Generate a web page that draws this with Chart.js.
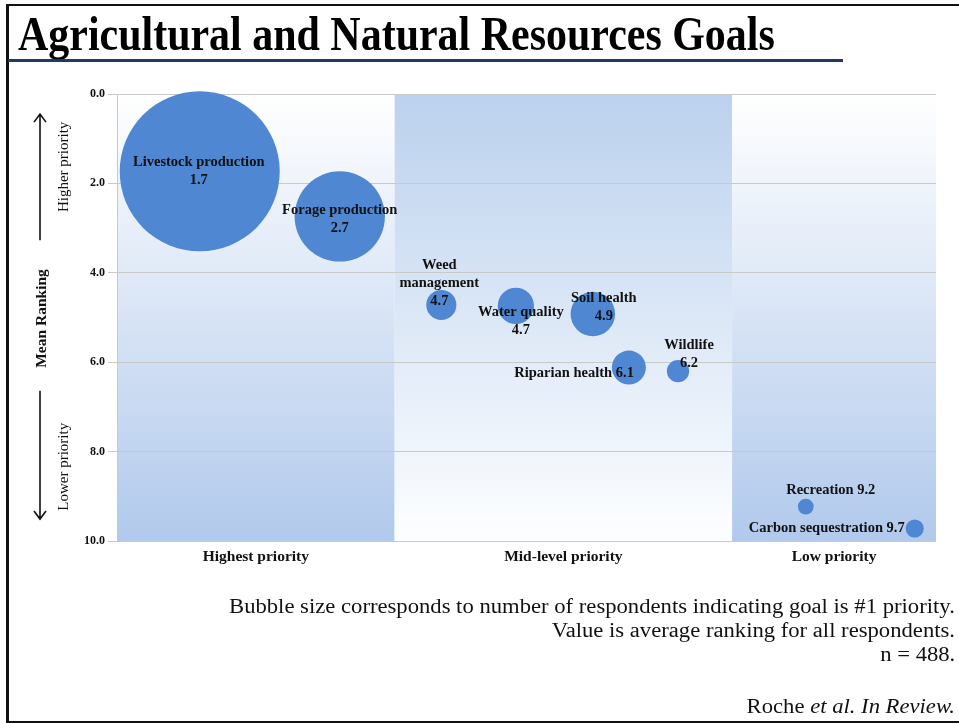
<!DOCTYPE html>
<html>
<head>
<meta charset="utf-8">
<title>Agricultural and Natural Resources Goals</title>
<script src="https://cdn.jsdelivr.net/npm/chart.js@4.4.1/dist/chart.umd.min.js"></script>
<style>
    body { margin: 0; background: #fff; }
    #slide { position: relative; width: 959px; height: 723px; overflow: hidden; background: #fff; }
    #goalsChart { position: absolute; left: 0; top: 0; }
    .frame {
        position: absolute; left: 6px; top: 4px; width: 970px; height: 715px;
        border-top: 2px solid #111; border-left: 3px solid #111; border-bottom: 3px solid #111;
    }
    .rule { position: absolute; left: 8px; top: 59px; width: 835px; height: 3px; background: #1f3a64; }
    .title {
        position: absolute; left: 18px; top: 10px; white-space: nowrap;
        font-family: "Liberation Serif", serif; font-weight: bold; font-size: 48px; line-height: 48px;
        color: #000; transform-origin: left top;
    }
    .note {
        position: absolute; right: 4px; white-space: nowrap; text-align: right;
        font-family: "Liberation Serif", serif; font-size: 20px; line-height: 24px;
        color: #111; transform-origin: right top;
    }
</style>
</head>
<body>
<div id="slide">
    <canvas id="goalsChart" width="959" height="723"></canvas>
    <div class="frame"></div>
    <div class="title" id="slideTitle">Agricultural and Natural Resources Goals</div>
    <div class="rule"></div>
    <div class="note" id="note1" style="top:594px">Bubble size corresponds to number of respondents indicating goal is #1 priority.</div>
    <div class="note" id="note2" style="top:618px">Value is average ranking for all respondents.</div>
    <div class="note" id="note3" style="top:642px">n = 488.</div>
    <div class="note" id="note4" style="top:694px">Roche <i>et al. In Review.</i></div>
</div>
<script>
// data
const goals = [
    "Livestock production",
    "Forage production",
    "Weed management",
    "Water quality",
    "Soil health",
    "Riparian health",
    "Wildlife",
    "Recreation",
    "Carbon sequestration",
];
const meanRanking = [1.73, 2.74, 4.72, 4.74, 4.92, 6.12, 6.2, 9.23, 9.72];
const goalPosition = [10.1, 27.2, 39.6, 48.7, 58.1, 62.5, 68.5, 84.1, 97.4];
const firstPriorityCount = [311, 99, 11, 16, 24, 14, 6, 3, 4];

const categories = ["Highest priority", "Mid-level priority", "Low priority"];
const bandEdges = [0, 33.9, 75.1, 100];
const rankingTicks = [0, 2, 4, 6, 8, 10];

const serif = "'Liberation Serif', 'Times New Roman', serif";
const bubbleColor = "#4f87d3";
const maxBubbleRadius = 80;

const bandColors = [
    ["#ffffff", "#b1c9ec"],
    ["#bbd1ee", "#fdfeff"],
    ["#ffffff", "#b1c9ec"],
];

// where each label sits relative to its bubble
const labelLayout = [
    { dx: -1, dy: -9, mode: "stack" },
    { dx: 0, dy: -6, mode: "stack" },
    { dx: -2, dy: -40, mode: "stack", wrap: true },
    { dx: 5, dy: 6, mode: "stack" },
    { dx: 11, dy: -16, mode: "stack" },
    { dx: 5, dy: 6, mode: "inline", align: "right" },
    { dx: 11, dy: -26, mode: "stack" },
    { dx: 25, dy: -16, mode: "inline" },
    { dx: -10, dy: 0, mode: "inline", align: "right" },
];

function bubbleRadius(count) {
    const maxCount = Math.max(...firstPriorityCount);
    return maxBubbleRadius * Math.sqrt(count / maxCount);
}

const priorityBands = {
    id: "priorityBands",
    beforeDraw(chart) {
        const { ctx, chartArea, scales } = chart;

        ctx.save();
        for (let i = 0; i < categories.length; i++) {
            const left = scales.x.getPixelForValue(bandEdges[i]);
            const right = scales.x.getPixelForValue(bandEdges[i + 1]);
            const gradient = ctx.createLinearGradient(0, chartArea.top, 0, chartArea.bottom);

            gradient.addColorStop(0, bandColors[i][0]);
            gradient.addColorStop(1, bandColors[i][1]);
            ctx.fillStyle = gradient;
            ctx.fillRect(left, chartArea.top, right - left, chartArea.bottom - chartArea.top);
        }
        ctx.restore();
    },
    afterDraw(chart) {
        const { ctx, chartArea, scales } = chart;

        ctx.save();
        ctx.fillStyle = "#111";
        ctx.font = `bold 15.5px ${serif}`;
        ctx.textAlign = "center";
        ctx.textBaseline = "middle";
        for (let i = 0; i < categories.length; i++) {
            const center = scales.x.getPixelForValue((bandEdges[i] + bandEdges[i + 1]) / 2);
            ctx.fillText(categories[i], center, chartArea.bottom + 16);
        }
        ctx.restore();
    },
};

function drawArrow(ctx, x, fromY, toY) {
    const dir = toY < fromY ? 1 : -1;

    ctx.beginPath();
    ctx.moveTo(x, fromY);
    ctx.lineTo(x, toY);
    ctx.moveTo(x - 6, toY + dir * 8);
    ctx.lineTo(x, toY);
    ctx.lineTo(x + 6, toY + dir * 8);
    ctx.stroke();
}

function drawVertical(ctx, text, x, y, font) {
    ctx.save();
    ctx.translate(x, y);
    ctx.rotate(-Math.PI / 2);
    ctx.font = font;
    ctx.textAlign = "center";
    ctx.textBaseline = "middle";
    ctx.fillText(text, 0, 0);
    ctx.restore();
}

const rankingAxisNotes = {
    id: "rankingAxisNotes",
    afterDraw(chart) {
        const { ctx, chartArea } = chart;
        const y = chart.scales.y;

        ctx.save();
        ctx.fillStyle = "#111";
        ctx.strokeStyle = "#111";
        ctx.lineWidth = 1.6;

        drawArrow(ctx, 40, y.getPixelForValue(3.27), y.getPixelForValue(0.45));
        drawArrow(ctx, 40, y.getPixelForValue(6.64), y.getPixelForValue(9.51));

        drawVertical(ctx, "Mean Ranking", 42, (chartArea.top + chartArea.bottom) / 2 + 1, `bold 15.5px ${serif}`);
        drawVertical(ctx, "Higher priority", 64, y.getPixelForValue(1.63), `15px ${serif}`);
        drawVertical(ctx, "Lower priority", 64, y.getPixelForValue(8.34), `15px ${serif}`);
        ctx.restore();
    },
};

const goalLabels = {
    id: "goalLabels",
    afterDatasetsDraw(chart) {
        const { ctx } = chart;
        const points = chart.getDatasetMeta(0).data;

        ctx.save();
        ctx.fillStyle = "#111";
        ctx.font = `bold 14.5px ${serif}`;
        ctx.textBaseline = "middle";

        points.forEach((point, i) => {
            const layout = labelLayout[i];
            const value = meanRanking[i].toFixed(1);
            let lines;

            if (layout.mode === "inline") {
                lines = [`${goals[i]} ${value}`];
            } else if (layout.wrap) {
                lines = goals[i].split(" ").concat(value);
            } else {
                lines = [goals[i], value];
            }

            ctx.textAlign = layout.align || "center";
            lines.forEach((line, n) => {
                ctx.fillText(line, point.x + layout.dx, point.y + layout.dy + n * 18);
            });
        });
        ctx.restore();
    },
};

const bubbles = goals.map((goal, i) => ({
    x: goalPosition[i],
    y: meanRanking[i],
    r: bubbleRadius(firstPriorityCount[i]),
}));

new Chart(document.getElementById("goalsChart"), {
    type: "bubble",
    data: {
        datasets: [{
            label: "Goals",
            data: bubbles,
            backgroundColor: bubbleColor,
            borderWidth: 0,
            clip: false,
        }]
    },
    options: {
        responsive: false,
        animation: false,
        events: [],
        layout: {
            autoPadding: false,
            padding: { top: 94, right: 23, left: 0, bottom: 0 }
        },
        plugins: {
            legend: { display: false },
            tooltip: { enabled: false }
        },
        scales: {
            x: {
                type: "linear",
                min: 0,
                max: 100,
                ticks: { display: false },
                grid: { display: false, drawTicks: false },
                border: { display: false },
                afterFit(scale) {
                    scale.height = 182;
                }
            },
            y: {
                type: "linear",
                reverse: true,
                min: 0,
                max: 10,
                afterBuildTicks(scale) {
                    scale.ticks = rankingTicks.map((v) => ({ value: v }));
                },
                ticks: {
                    callback: (v) => Number(v).toFixed(1),
                    color: "#111",
                    padding: 3,
                    font: { family: serif, weight: "bold", size: 12 }
                },
                grid: { color: "#c9c9c9", tickLength: 9, lineWidth: 1 },
                border: { color: "#c9c9c9" },
                afterFit(scale) {
                    scale.width = 117;
                }
            }
        }
    },
    plugins: [priorityBands, rankingAxisNotes, goalLabels],
});

function fitWidth(el, target) {
    const scale = target / el.offsetWidth;
    el.style.transform = `scaleX(${scale})`;
    return scale;
}

fitWidth(document.getElementById("slideTitle"), 757);
const noteScale = fitWidth(document.getElementById("note1"), 726);
["note2", "note3", "note4"].forEach((id) => {
    document.getElementById(id).style.transform = `scaleX(${noteScale})`;
});
</script>
</body>
</html>
